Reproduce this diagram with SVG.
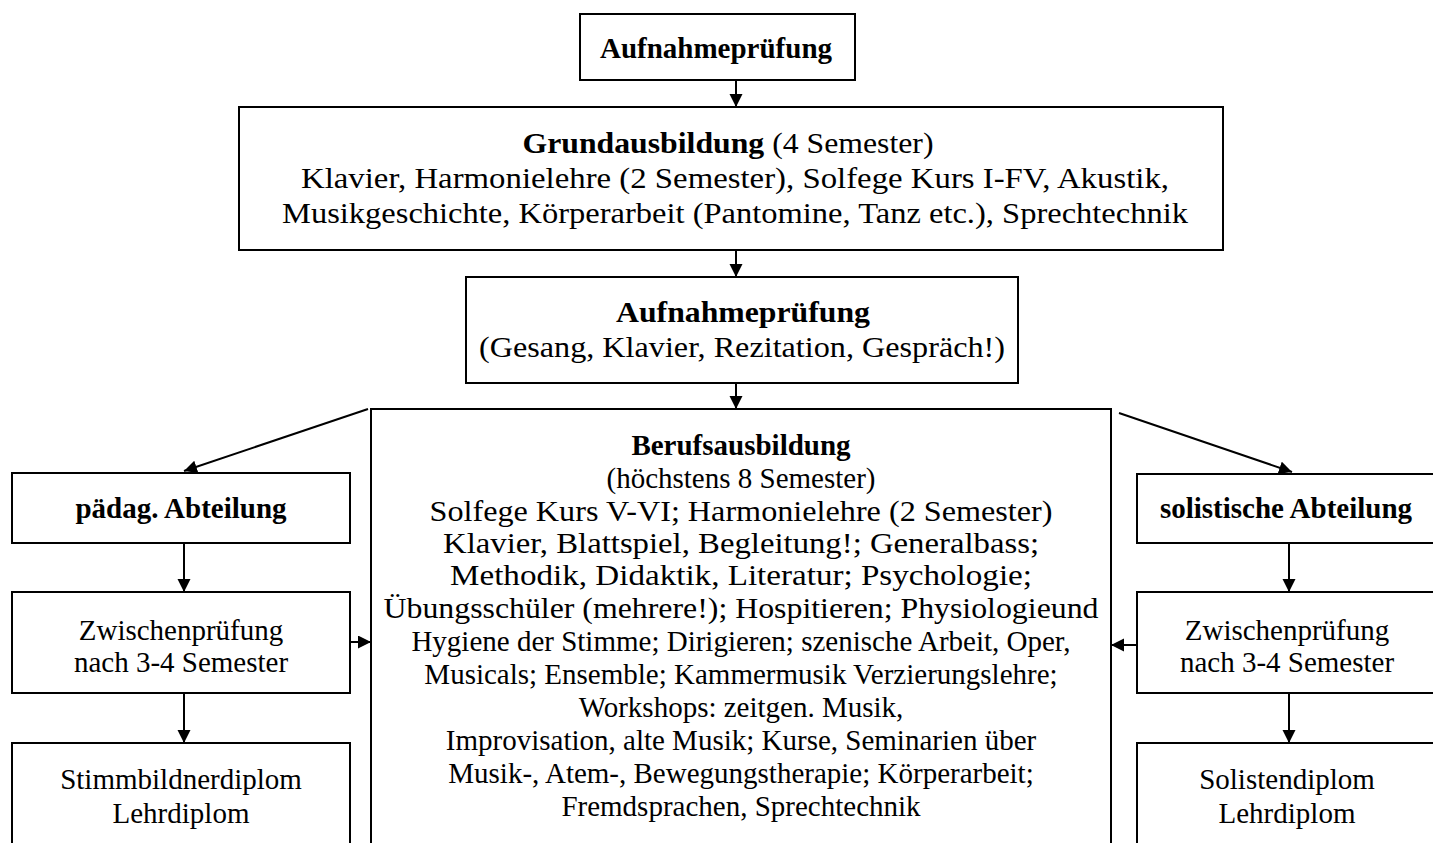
<svg xmlns="http://www.w3.org/2000/svg" width="1433" height="843" viewBox="0 0 1433 843">
<defs>
<marker id="ah" markerWidth="14" markerHeight="14" refX="13" refY="6.5" orient="auto" markerUnits="userSpaceOnUse">
<path d="M0,0 L13,6.5 L0,13 z" fill="#000"/>
</marker>
<style>
.box{fill:#fff;stroke:#000;stroke-width:2}
.t{font-family:"Liberation Serif","Times New Roman",serif;font-size:29px;fill:#000;text-anchor:middle}
.b{font-weight:bold}
.c{stroke:#000;stroke-width:2;fill:none;marker-end:url(#ah)}
</style>
</defs>
<rect width="1433" height="843" fill="#fff"/>
<g id="n-aufnahme1">
<rect class="box" x="580" y="14" width="275" height="66"/>
<text class="t b" x="716" y="58">Aufnahmeprüfung</text>
</g>
<g id="n-grund">
<rect class="box" x="239" y="107" width="984" height="143"/>
<text class="t" x="728" y="153" textLength="411" lengthAdjust="spacingAndGlyphs"><tspan class="b">Grundausbildung</tspan> (4 Semester)</text>
<text class="t" x="735" y="188" textLength="868" lengthAdjust="spacingAndGlyphs">Klavier, Harmonielehre (2 Semester), Solfege Kurs I-FV, Akustik,</text>
<text class="t" x="735" y="223" textLength="906" lengthAdjust="spacingAndGlyphs">Musikgeschichte, Körperarbeit (Pantomine, Tanz etc.), Sprechtechnik</text>
</g>
<g id="n-aufnahme2">
<rect class="box" x="466" y="277" width="552" height="106"/>
<text class="t b" x="743" y="322" textLength="254" lengthAdjust="spacingAndGlyphs">Aufnahmeprüfung</text>
<text class="t" x="742" y="357" textLength="526" lengthAdjust="spacingAndGlyphs">(Gesang, Klavier, Rezitation, Gespräch!)</text>
</g>
<g id="n-beruf">
<path class="box" d="M371,846 V409 H1111 V846"/>
<text class="t b" x="741" y="455">Berufsausbildung</text>
<text class="t" x="741" y="488">(höchstens 8 Semester)</text>
<text class="t" x="741" y="521" textLength="623" lengthAdjust="spacingAndGlyphs">Solfege Kurs V-VI; Harmonielehre (2 Semester)</text>
<text class="t" x="741" y="553" textLength="596" lengthAdjust="spacingAndGlyphs">Klavier, Blattspiel, Begleitung!; Generalbass;</text>
<text class="t" x="741" y="585" textLength="582" lengthAdjust="spacingAndGlyphs">Methodik, Didaktik, Literatur; Psychologie;</text>
<text class="t" x="741" y="618" textLength="715" lengthAdjust="spacingAndGlyphs">Übungsschüler (mehrere!); Hospitieren; Physiologieund</text>
<text class="t" x="741" y="651">Hygiene der Stimme; Dirigieren; szenische Arbeit, Oper,</text>
<text class="t" x="741" y="684">Musicals; Ensemble; Kammermusik Verzierungslehre;</text>
<text class="t" x="741" y="717">Workshops: zeitgen. Musik,</text>
<text class="t" x="741" y="750">Improvisation, alte Musik; Kurse, Seminarien über</text>
<text class="t" x="741" y="783">Musik-, Atem-, Bewegungstherapie; Körperarbeit;</text>
<text class="t" x="741" y="816">Fremdsprachen, Sprechtechnik</text>
</g>
<g id="n-paed">
<rect class="box" x="12" y="473" width="338" height="70"/>
<text class="t b" x="181" y="518">pädag. Abteilung</text>
</g>
<g id="n-zw-left">
<rect class="box" x="12" y="592" width="338" height="101"/>
<text class="t" x="181" y="640">Zwischenprüfung</text>
<text class="t" x="181" y="672">nach 3-4 Semester</text>
</g>
<g id="n-diplom-left">
<path class="box" d="M12,846 V743 H350 V846"/>
<text class="t" x="181" y="789">Stimmbildnerdiplom</text>
<text class="t" x="181" y="823">Lehrdiplom</text>
</g>
<g id="n-sol">
<rect class="box" x="1137" y="474" width="310" height="69"/>
<text class="t b" x="1286" y="518">solistische Abteilung</text>
</g>
<g id="n-zw-right">
<rect class="box" x="1137" y="592" width="310" height="101"/>
<text class="t" x="1287" y="640">Zwischenprüfung</text>
<text class="t" x="1287" y="672">nach 3-4 Semester</text>
</g>
<g id="n-diplom-right">
<path class="box" d="M1137,846 V743 H1447"/>
<text class="t" x="1287" y="789">Solistendiplom</text>
<text class="t" x="1287" y="823">Lehrdiplom</text>
</g>
<g id="connectors">
<line class="c" x1="736" y1="80" x2="736" y2="107"/>
<line class="c" x1="736" y1="250" x2="736" y2="277"/>
<line class="c" x1="736" y1="383" x2="736" y2="409"/>
<line class="c" x1="368" y1="409" x2="184" y2="471"/>
<line class="c" x1="1119" y1="413" x2="1292" y2="472"/>
<line class="c" x1="184" y1="543" x2="184" y2="592"/>
<line class="c" x1="184" y1="693" x2="184" y2="743"/>
<line class="c" x1="1289" y1="543" x2="1289" y2="592"/>
<line class="c" x1="1289" y1="693" x2="1289" y2="743"/>
<line class="c" x1="350" y1="642" x2="371" y2="642"/>
<line class="c" x1="1137" y1="645" x2="1111" y2="645"/>
</g>
</svg>
